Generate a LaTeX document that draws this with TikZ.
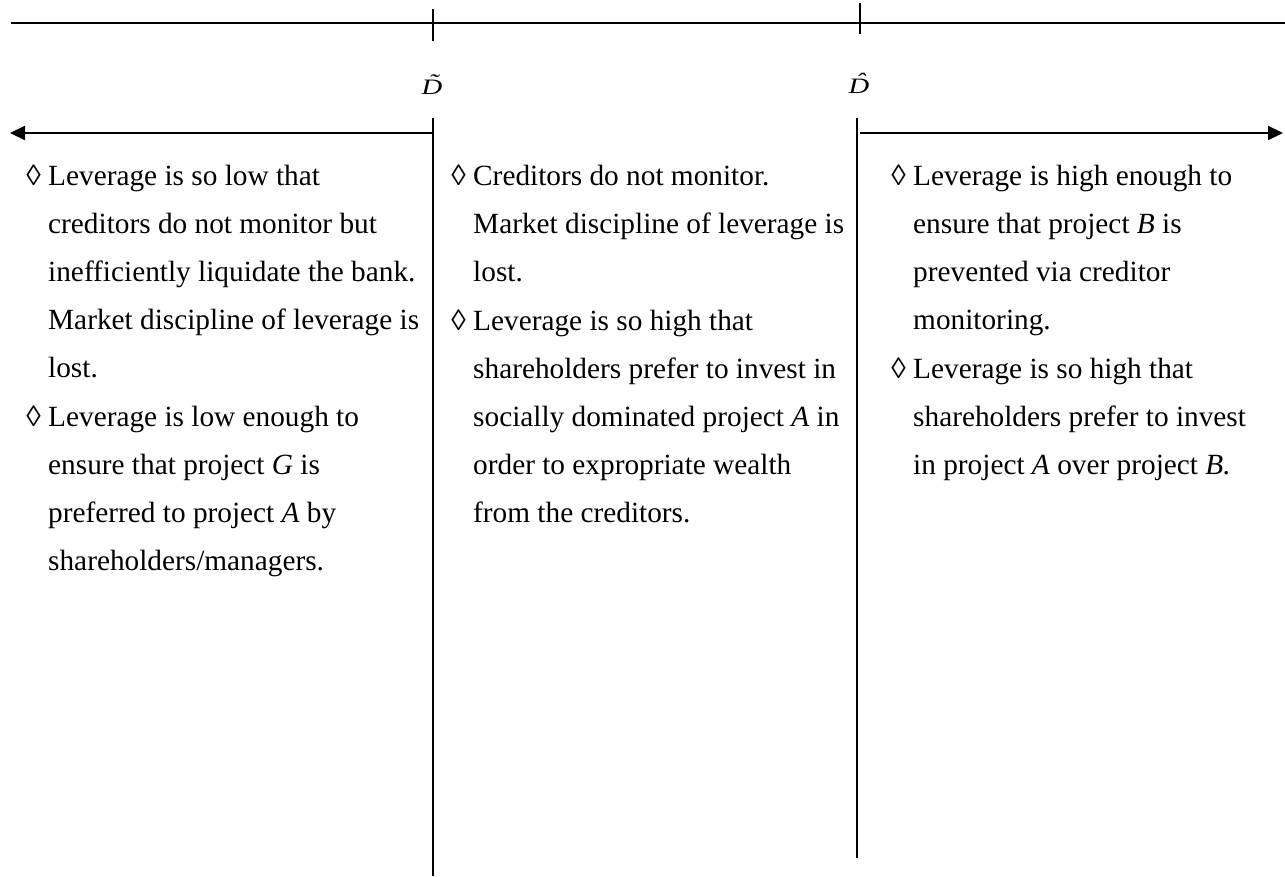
\documentclass[tikz,border=0pt]{standalone}
\usepackage{fontspec}
\usepackage{graphicx}
\setmainfont{Liberation Serif}
\usetikzlibrary{arrows.meta}
\begin{document}
\begin{tikzpicture}[x=1pt,y=-1pt,
  rule/.style={line width=2pt, black},
  arrowline/.style={line width=2.2pt, -{Triangle[length=15pt,width=14pt]}},
  col/.style={anchor=base west, inner sep=0pt, align=left, font=\fontsize{29.3}{48.2}\selectfont},
  lbl/.style={anchor=base, inner sep=0pt, font=\fontsize{22}{22}\selectfont\itshape}]
\useasboundingbox (0,0) rectangle (1285,876);
% axis and ticks
\coordinate (topL) at (11,23);
\coordinate (topR) at (1285,23);
\coordinate (t1a) at (433,9);
\coordinate (t1b) at (433,41);
\coordinate (t2a) at (860,3);
\coordinate (t2b) at (860,34);
\draw[rule] (topL) -- (topR);
\draw[rule] (t1a) -- (t1b);
\draw[rule] (t2a) -- (t2b);
% labels
\node[lbl] (Dt) at (432,94) {\scalebox{1.3}[1]{\accent"02DC D}};
\node[lbl] (Dh) at (859,93) {\scalebox{1.3}[1]{\accent"02C6 D}};
% dividers
\coordinate (v1a) at (433,118);
\coordinate (v1b) at (433,876);
\coordinate (v2a) at (857,118);
\coordinate (v2b) at (857,858);
\draw[rule] (v1a) -- (v1b);
\draw[rule] (v2a) -- (v2b);
% arrows
\coordinate (la) at (432,133);
\coordinate (lb) at (10,133);
\coordinate (ra) at (860,133);
\coordinate (rb) at (1283,133);
\draw[arrowline] (la) -- (lb);
\draw[arrowline] (ra) -- (rb);
% left column (anchor = baseline of last line)
\node[col] (L1) at (48,377.8) {\llap{◊\ }Leverage is so low that\\creditors do not monitor but\\inefficiently liquidate the bank.\\Market discipline of leverage is\\lost.};
\node[col] (L2) at (48,570.6) {\llap{◊\ }Leverage is low enough to\\ensure that project \textit{G} is\\preferred to project \textit{A} by\\shareholders/managers.};
% middle column
\node[col] (M1) at (473,281.4) {\llap{◊\ }Creditors do not monitor.\\Market discipline of leverage is\\lost.};
\node[col] (M2) at (473,522.8) {\llap{◊\ }Leverage is so high that\\shareholders prefer to invest in\\socially dominated project \textit{A} in\\order to expropriate wealth\\from the creditors.};
% right column
\node[col] (R1) at (913,329.6) {\llap{◊\ }Leverage is high enough to\\ensure that project \textit{B} is\\prevented via creditor\\monitoring.};
\node[col] (R2) at (913,474.4) {\llap{◊\ }Leverage is so high that\\shareholders prefer to invest\\in project \textit{A} over project \textit{B.}};
\end{tikzpicture}
\end{document}
